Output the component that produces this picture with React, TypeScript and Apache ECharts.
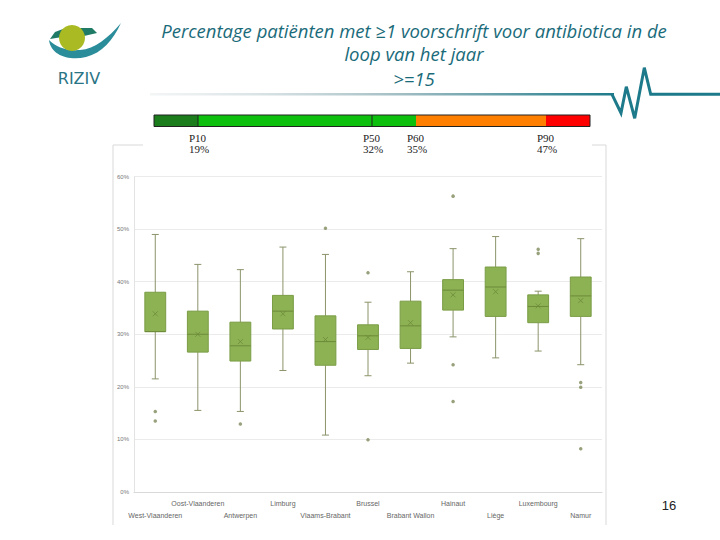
import React, { useEffect, useRef } from "react";
import * as echarts from "echarts";

const categories = [
  "West-Vlaanderen",
  "Oost-Vlaanderen",
  "Antwerpen",
  "Limburg",
  "Vlaams-Brabant",
  "Brussel",
  "Brabant Wallon",
  "Hainaut",
  "Liège",
  "Luxembourg",
  "Namur",
];
const minVals = [21.5, 15.5, 15.3, 23.1, 10.8, 22.1, 24.5, 29.5, 25.5, 26.8, 24.2];
const q1Vals = [30.5, 26.6, 24.9, 31.0, 24.1, 27.1, 27.3, 34.6, 33.4, 32.2, 33.4];
const medianVals = [30.5, 30.0, 27.8, 34.4, 28.6, 29.7, 31.6, 38.4, 39.0, 35.3, 37.3];
const q3Vals = [38.0, 34.4, 32.3, 37.4, 33.5, 31.8, 36.3, 40.4, 42.8, 37.5, 40.9];
const maxVals = [49.0, 43.3, 42.3, 46.6, 45.2, 36.1, 41.9, 46.3, 48.6, 38.2, 48.2];
const meanVals = [33.9, 30.0, 28.6, 33.9, 29.0, 29.4, 32.2, 37.5, 38.1, 35.4, 36.4];
const outliers: [number, number][] = [
  [0, 15.3], [0, 13.5], [2, 12.9], [4, 50.2], [5, 41.7], [5, 9.9],
  [7, 56.3], [7, 24.2], [7, 17.2], [9, 46.2], [9, 45.4],
  [10, 20.8], [10, 19.9], [10, 8.2],
];
const yTicks = [0, 10, 20, 30, 40, 50, 60];

const percentileLabels = ["P10", "P50", "P60", "P90"];
const percentileValues = ["19%", "32%", "35%", "47%"];

const title = [
  "Percentage patiënten met ≥1 voorschrift voor antibiotica in de",
  "loop van het jaar",
  ">=15",
];

echarts.graphic.registerShape(
  "swoosh",
  echarts.graphic.extendPath(
    "M49,40 C51,56 70,61 86,57 C102,53 113,40 121,23 C108,38 95,49 80,50 C66,51 56,47 49,40 Z",
    {}
  )
);

export default function App() {
  const ref = useRef<HTMLDivElement>(null);
  useEffect(() => {
    if (!ref.current) return;
    const chart = echarts.init(ref.current, null, { renderer: "svg" });
    const boxData = categories.map((c, i) => [
      i, minVals[i], q1Vals[i], medianVals[i], q3Vals[i], maxVals[i], meanVals[i],
    ]);
    const teal = "#1a6b7a";
    const barSegs = [
      { x0: 154, x1: 198, c: "#1b7d1b" },
      { x0: 198, x1: 372, c: "#0dc00d" },
      { x0: 372, x1: 416, c: "#0dc00d" },
      { x0: 416, x1: 546, c: "#ff8000" },
      { x0: 546, x1: 590, c: "#ff0000" },
    ];
    const dividers = [198, 372, 416, 546];
    const graphics: any[] = [];
    // logo
    graphics.push({
      type: "polygon",
      shape: { points: [[50, 39], [55, 32], [63, 29], [62, 37]] },
      style: { fill: "#1f7a66" },
      z: 10,
    });
    graphics.push({
      type: "polygon",
      shape: { points: [[80, 28], [92, 28], [97, 33], [84, 36]] },
      style: { fill: "#1f7a66" },
      z: 10,
    });
    graphics.push({
      type: "swoosh",
      x: 0,
      y: 0,
      style: { fill: "#2b8c9a" },
      z: 11,
    });
    graphics.push({
      type: "circle",
      shape: { cx: 72, cy: 38, r: 13 },
      style: { fill: "#a9ba22" },
      z: 12,
    });
    graphics.push({
      type: "text",
      x: 79,
      y: 78,
      style: {
        text: "RIZIV",
        fontSize: 16,
        fontFamily: "DejaVu Sans",
        fill: "#2a7585",
        textAlign: "center",
        textVerticalAlign: "middle",
      },
      z: 12,
    });
    // title
    title.forEach((t, i) => {
      graphics.push({
        type: "text",
        x: 414,
        y: [30, 53, 78][i],
        style: {
          text: t,
          fontSize: 18.5,
          fontStyle: "italic",
          fontFamily: "Open Sans",
          fill: teal,
          textAlign: "center",
          textVerticalAlign: "middle",
        },
        z: 10,
      });
    });
    // header line (gradient rect)
    graphics.push({
      type: "rect",
      shape: { x: 150, y: 93, width: 464, height: 2.6 },
      style: {
        fill: new echarts.graphic.LinearGradient(0, 0, 1, 0, [
          { offset: 0, color: "rgba(215,222,224,0.3)" },
          { offset: 0.55, color: "#9fbcc2" },
          { offset: 1, color: "#1d7a8a" },
        ]),
      },
      z: 10,
    });
    graphics.push({
      type: "polyline",
      shape: {
        points: [
          [612, 94.3], [621, 113], [626.3, 86.7], [634.7, 118.3],
          [644.3, 67.7], [650.7, 94.3], [720, 94.3],
        ],
      },
      style: { lineWidth: 3, stroke: "#1d7a8a", fill: null },
      z: 10,
    });
    // colour bar
    barSegs.forEach((s) => {
      graphics.push({
        type: "rect",
        shape: { x: s.x0, y: 115, width: s.x1 - s.x0, height: 11.5 },
        style: { fill: s.c },
        z: 10,
      });
    });
    graphics.push({
      type: "rect",
      shape: { x: 154, y: 115, width: 436, height: 11.5 },
      style: { fill: null, stroke: "#222", lineWidth: 1 },
      z: 11,
    });
    [198, 372].forEach((x) => {
      graphics.push({
        type: "line",
        shape: { x1: x, y1: 115, x2: x, y2: 126.5 },
        style: { stroke: "#222", lineWidth: 1 },
        z: 11,
      });
    });
    percentileLabels.forEach((p, i) => {
      graphics.push({
        type: "text",
        x: dividers[i] - 9,
        y: 132,
        style: {
          text: p + "\n" + percentileValues[i],
          fontSize: 11,
          lineHeight: 11,
          fontFamily: "Liberation Serif",
          fill: "#222",
          textAlign: "left",
          textVerticalAlign: "top",
        },
        z: 10,
      });
    });
    // frame
    const frameStroke = "#d9d9d9";
    graphics.push({
      type: "polyline",
      shape: { points: [[143, 145], [113, 145], [113, 525]] },
      style: { stroke: frameStroke, lineWidth: 1, fill: null },
    });
    graphics.push({
      type: "polyline",
      shape: { points: [[592, 145], [606, 145], [606, 525]] },
      style: { stroke: frameStroke, lineWidth: 1, fill: null },
    });
    graphics.push({
      type: "text",
      x: 669,
      y: 505,
      style: {
        text: "16",
        fontSize: 13,
        fontFamily: "Liberation Sans",
        fill: "#222",
        textAlign: "center",
        textVerticalAlign: "middle",
      },
    });

    chart.setOption({
      animation: false,
      backgroundColor: "#ffffff",
      grid: { left: 134, right: 118, top: 176.7, bottom: 48.2 },
      xAxis: {
        type: "category",
        data: categories,
        axisLine: { show: true, lineStyle: { color: "#d9d9d9" } },
        axisTick: { show: false },
        axisLabel: {
          interval: 0,
          fontSize: 7,
          lineHeight: 12,
          margin: 6,
          color: "#666666",
          fontFamily: "Liberation Sans",
          formatter: (v: string, idx: number) => (idx % 2 === 0 ? "\n" + v : v),
        },
        splitLine: { show: false },
      },
      yAxis: {
        type: "value",
        min: 0,
        max: 60,
        interval: 10,
        axisLine: { show: true, lineStyle: { color: "#e3e3e3" } },
        axisTick: { show: false },
        axisLabel: {
          fontSize: 6,
          color: "#777",
          margin: 5,
          formatter: (v: number) => (yTicks.includes(v) ? v + "%" : ""),
        },
        splitLine: { lineStyle: { color: "#ebebeb" } },
      },
      graphic: graphics,
      series: [
        {
          type: "custom",
          data: boxData,
          encode: { x: 0, y: [1, 2, 3, 4, 5, 6] },
          renderItem: (params: any, api: any) => {
            const i = api.value(0);
            const pMin = api.coord([i, api.value(1)]);
            const pQ1 = api.coord([i, api.value(2)]);
            const pMed = api.coord([i, api.value(3)]);
            const pQ3 = api.coord([i, api.value(4)]);
            const pMax = api.coord([i, api.value(5)]);
            const pMean = api.coord([i, api.value(6)]);
            const bw = api.size([1, 0])[0] * 0.49;
            const cx = pMin[0];
            const wc = "#8b946a";
            const dark = "#6c8a38";
            const cap = 3.5;
            return {
              type: "group",
              children: [
                { type: "line", shape: { x1: cx, y1: pQ3[1], x2: cx, y2: pMax[1] }, style: { stroke: wc, lineWidth: 1 } },
                { type: "line", shape: { x1: cx - cap, y1: pMax[1], x2: cx + cap, y2: pMax[1] }, style: { stroke: wc, lineWidth: 1 } },
                { type: "line", shape: { x1: cx, y1: pQ1[1], x2: cx, y2: pMin[1] }, style: { stroke: wc, lineWidth: 1 } },
                { type: "line", shape: { x1: cx - cap, y1: pMin[1], x2: cx + cap, y2: pMin[1] }, style: { stroke: wc, lineWidth: 1 } },
                {
                  type: "rect",
                  shape: { x: cx - bw / 2, y: pQ3[1], width: bw, height: pQ1[1] - pQ3[1] },
                  style: { fill: "#8db254", stroke: "#7a9c45", lineWidth: 1 },
                },
                { type: "line", shape: { x1: cx - bw / 2, y1: pMed[1], x2: cx + bw / 2, y2: pMed[1] }, style: { stroke: dark, lineWidth: 1 } },
                { type: "line", shape: { x1: pMean[0] - 2.5, y1: pMean[1] - 2.5, x2: pMean[0] + 2.5, y2: pMean[1] + 2.5 }, style: { stroke: dark, lineWidth: 0.8 } },
                { type: "line", shape: { x1: pMean[0] - 2.5, y1: pMean[1] + 2.5, x2: pMean[0] + 2.5, y2: pMean[1] - 2.5 }, style: { stroke: dark, lineWidth: 0.8 } },
              ],
            };
          },
        },
        {
          type: "scatter",
          data: outliers,
          symbol: "circle",
          symbolSize: 3.5,
          itemStyle: { color: "#7d8a5a" },
        },
      ],
    });
    return () => chart.dispose();
  }, []);
  return (
    <div
      ref={ref}
      style={{ position: "absolute", left: 0, top: 0, width: 720, height: 540 }}
    />
  );
}
